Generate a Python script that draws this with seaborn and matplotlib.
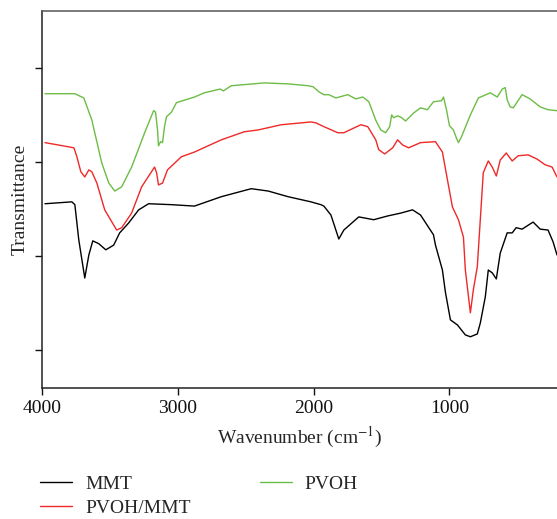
import numpy as np
import pandas as pd
import seaborn as sns
import matplotlib.pyplot as plt

# FTIR spectra (wavenumber in cm-1, transmittance in arbitrary units)
mmt_wn = [3978, 3780, 3758, 3729, 3685, 3655, 3626, 3582, 3530, 3472, 3428, 3362, 3288, 3215,
          3046, 2877, 2679, 2459, 2334, 2188, 2019, 1946, 1924, 1872, 1814, 1777, 1667, 1557,
          1454, 1359, 1271, 1212, 1117, 1102, 1051, 1029, 992, 940, 882, 845, 794, 772, 735,
          713, 684, 654, 625, 574, 537, 508, 464, 383, 331, 273, 236, 207]
mmt_t = [51.1, 51.5, 50.9, 43.4, 35.3, 40.2, 43.2, 42.6, 41.3, 42.3, 44.9, 47.0, 49.8, 51.1,
         50.9, 50.6, 52.6, 54.3, 53.8, 52.6, 51.5, 50.9, 50.6, 48.7, 43.6, 45.5, 48.3, 47.7,
         48.5, 49.1, 49.8, 48.7, 44.5, 42.3, 37.0, 32.3, 26.4, 25.3, 23.2, 22.8, 23.4, 25.7, 31.3,
         37.0, 36.4, 35.1, 40.6, 44.9, 44.9, 46.0, 45.7, 47.2, 45.7, 45.5, 43.0, 40.2]

pvoh_mmt_wn = [3978, 3765, 3743, 3714, 3685, 3655, 3633, 3596, 3538, 3450, 3413, 3340, 3266,
               3171, 3156, 3142, 3112, 3076, 2973, 2877, 2679, 2511, 2408, 2239, 2019, 1982,
               1924, 1821, 1777, 1652, 1601, 1542, 1520, 1476, 1417, 1381, 1344, 1300, 1212,
               1102, 1051, 1014, 977, 933, 896, 882, 845, 823, 794, 764, 750, 713, 684, 654,
               625, 581, 537, 493, 420, 354, 295, 243, 207]
pvoh_mmt_t = [64.1, 63.0, 61.1, 57.9, 56.8, 58.3, 57.9, 55.5, 49.8, 45.5, 46.0, 49.1, 54.7,
              58.9, 57.7, 55.1, 55.5, 58.3, 61.1, 62.1, 64.7, 66.4, 66.8, 67.9, 68.5, 68.3,
              67.5, 66.2, 66.2, 67.9, 67.5, 64.7, 62.6, 61.7, 63.0, 64.7, 63.6, 63.0, 64.1,
              64.3, 62.1, 56.2, 50.4, 47.7, 44.0, 37.0, 27.9, 32.8, 37.7, 51.3, 57.7, 60.2, 58.9, 57.0,
              60.4, 61.9, 60.2, 61.3, 61.5, 60.6, 59.4, 58.9, 56.8]

pvoh_wn = [3978, 3758, 3692, 3633, 3560, 3508, 3464, 3413, 3340, 3244, 3178, 3164, 3149, 3142,
           3127, 3112, 3098, 3083, 3046, 3010, 2877, 2804, 2687, 2665, 2606, 2364, 2188, 2041,
           2004, 1960, 1924, 1887, 1836, 1748, 1689, 1637, 1593, 1542, 1505, 1469, 1439, 1425,
           1410, 1381, 1351, 1322, 1263, 1212, 1161, 1117, 1058, 1043, 1021, 999, 970, 948,
           933, 911, 845, 786, 698, 647, 610, 588, 574, 552, 529, 464, 405, 331, 273, 207]
pvoh_t = [74.5, 74.5, 73.6, 68.9, 59.8, 55.5, 53.8, 54.7, 58.9, 66.2, 70.9, 70.6, 66.8, 63.4,
          64.3, 64.1, 67.5, 69.6, 70.6, 72.6, 73.8, 74.7, 75.5, 75.1, 76.2, 76.8, 76.6, 76.2,
          76.0, 74.9, 74.3, 74.3, 73.6, 74.3, 73.4, 73.8, 72.8, 68.9, 66.8, 66.2, 67.5, 70.0,
          69.4, 69.8, 69.4, 68.7, 70.4, 71.5, 71.1, 72.8, 73.0, 73.8, 71.1, 67.7, 66.8, 65.1,
          64.1, 65.3, 70.0, 73.6, 74.7, 73.8, 75.5, 75.8, 73.2, 71.7, 71.5, 74.3, 73.4, 71.7, 71.1, 70.9]

samples = ["MMT", "PVOH/MMT", "PVOH"]
colors = {"MMT": "#000000", "PVOH/MMT": "#f02828", "PVOH": "#6cbd45"}

frames = []
for name, wn, t in zip(samples, [mmt_wn, pvoh_mmt_wn, pvoh_wn], [mmt_t, pvoh_mmt_t, pvoh_t]):
    frames.append(pd.DataFrame({"Wavenumber": wn, "Transmittance": t, "sample": name}))
df = pd.concat(frames, ignore_index=True)

sns.set_style("ticks")
plt.rcParams["font.family"] = ["Liberation Serif", "DejaVu Serif"]
plt.rcParams["mathtext.fontset"] = "stix"

fig = plt.figure(figsize=(5.57, 5.19), dpi=100)
ax = fig.add_axes([0.0754, 0.2524, 0.9246, 0.7264])
sns.lineplot(data=df, x="Wavenumber", y="Transmittance", hue="sample", hue_order=samples,
             palette=colors, sort=False, estimator=None, linewidth=1.0, ax=ax)

ax.set_xlim(4000, 207)
ax.set_ylim(11.9, 92.1)
ax.set_xticks([4000, 3000, 2000, 1000])
ax.set_yticks([20, 40, 60, 80])
ax.set_yticklabels([])
ax.spines["right"].set_visible(False)
for s in ["left", "bottom", "top"]:
    ax.spines[s].set_linewidth(1.1)
    ax.spines[s].set_color("#222222")
ax.spines["top"].set_color("#555555")
ax.tick_params(direction="out", length=5, width=1.0, labelsize=14, colors="#111111")
ax.set_xlabel(r"Wavenumber (cm$^{-1}$)", fontsize=14, labelpad=6)
ax.set_ylabel("Transmittance", fontsize=14, labelpad=1)

handles, labels = ax.get_legend_handles_labels()
ax.get_legend().remove()
fig.legend(handles, labels, ncol=2, loc="upper left", bbox_to_anchor=(0.072, 0.084),
           frameon=False, fontsize=14, handlelength=1.65, handletextpad=0.67,
           columnspacing=3.55, labelspacing=0.33, borderaxespad=0, borderpad=0)

fig.savefig("out.png", dpi=100)
